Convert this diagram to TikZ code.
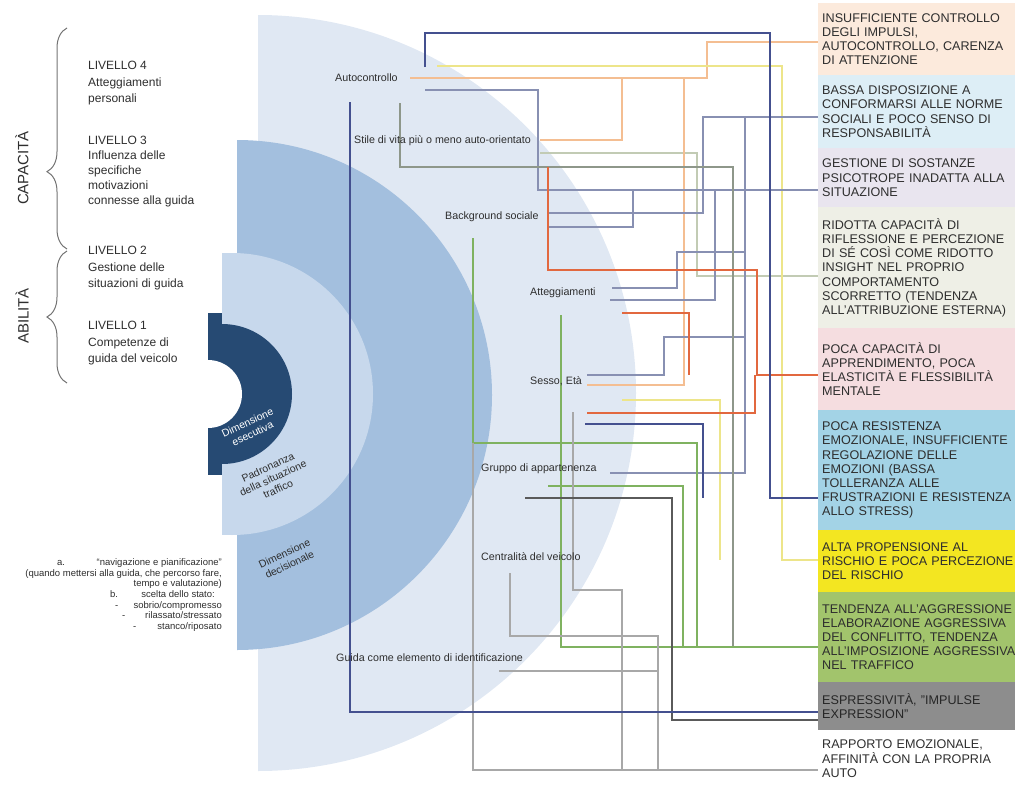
\documentclass[tikz,border=0pt]{standalone}
\usepackage{fontspec}
\setmainfont{Liberation Sans}
\usetikzlibrary{decorations.pathreplacing,positioning}
% semicircles
\definecolor{ringlight}{HTML}{E0E8F3}
\definecolor{ringmid}{HTML}{A3BFDE}
\definecolor{ringpale}{HTML}{C7D8EC}
\definecolor{ringdark}{HTML}{264A73}
\definecolor{txtgrey}{HTML}{2E2E2E}
% boxes
\definecolor{bxpeach}{HTML}{FCEADC}
\definecolor{bxsky}{HTML}{DDEEF6}
\definecolor{bxlilac}{HTML}{E9E5EF}
\definecolor{bxsage}{HTML}{EEEFE6}
\definecolor{bxpink}{HTML}{F5DDE0}
\definecolor{bxblue}{HTML}{A3D3E6}
\definecolor{bxyellow}{HTML}{F3E621}
\definecolor{bxgreen}{HTML}{A2C46C}
\definecolor{bxgrey}{HTML}{8D8D8D}
% connectors
\definecolor{lnnavy}{HTML}{44508F}
\definecolor{lnpeach}{HTML}{F4BE92}
\definecolor{lnyellow}{HTML}{EDE58A}
\definecolor{lnolive}{HTML}{8E978A}
\definecolor{lnslate}{HTML}{8890B2}
\definecolor{lnred}{HTML}{E2683F}
\definecolor{lngreen}{HTML}{7FB260}
\definecolor{lndark}{HTML}{5A5A5A}
\definecolor{lnlight}{HTML}{A8A8A8}
\definecolor{lnsage}{HTML}{C2CBB4}

\begin{document}
\begin{tikzpicture}[x=1pt,y=-1pt,
    box/.style={anchor=north west, fill=#1, text width=230pt, inner xsep=4pt, inner ysep=0pt,
        align=left, text=txtgrey, font=\fontsize{12.6}{14.2}\selectfont},
    lvl/.style={anchor=north west, align=left, inner sep=0pt, text=txtgrey,
        font=\fontsize{12}{16.5}\selectfont},
    fac/.style={anchor=west, inner sep=0pt, text=txtgrey, font=\fontsize{10.7}{12}\selectfont},
    dim/.style={rotate=25, align=center, inner sep=0pt, font=\fontsize{10.5}{12}\selectfont},
    note/.style={anchor=base east, inner sep=0pt, text=txtgrey, font=\fontsize{9.5}{11}\selectfont},
    ln/.style={draw=#1, line width=1.1pt}]
    \useasboundingbox (0,0) rectangle (1015,787);

    % Big light semicircle
    \begin{scope}
        \clip (258,0) rectangle (700,787);
        \fill[ringlight] (258,393) circle (378);
    \end{scope}

    % Middle ring
    \begin{scope}
        \clip (237,0) rectangle (520,787);
        \fill[ringmid] (237,395) circle (255);
    \end{scope}

    % Padronanza ring
    \begin{scope}
        \clip (222,0) rectangle (400,787);
        \fill[ringpale] (222,253) rectangle (232,535);
        \fill[ringpale] (232,394) circle (141);
    \end{scope}

    % Dark inner ring with notch
    \begin{scope}
        \clip (208,0) rectangle (320,787);
        \fill[ringdark] (208,313) rectangle (222,475);
        \fill[ringdark] (222,394) circle (70);
        \fill[white] (208,394) circle (34);
    \end{scope}

    % Boxes on the right
    \node[box=bxpeach, minimum height=72pt] (b1) at (818,3)
        {INSUFFICIENTE CONTROLLO\\DEGLI IMPULSI,\\AUTOCONTROLLO, CARENZA\\DI ATTENZIONE};
    \node[box=bxsky, minimum height=73pt] (b2) at (818,75)
        {BASSA DISPOSIZIONE A\\CONFORMARSI ALLE NORME\\SOCIALI E POCO SENSO DI\\RESPONSABILITÀ};
    \node[box=bxlilac, minimum height=59pt] (b3) at (818,148)
        {GESTIONE DI SOSTANZE\\PSICOTROPE INADATTA ALLA\\SITUAZIONE};
    \node[box=bxsage, minimum height=121pt] (b4) at (818,207)
        {RIDOTTA CAPACITÀ DI\\RIFLESSIONE E PERCEZIONE\\DI SÉ COSÌ COME RIDOTTO\\INSIGHT NEL PROPRIO\\COMPORTAMENTO\\SCORRETTO (TENDENZA\\ALL'ATTRIBUZIONE ESTERNA)};
    \node[box=bxpink, minimum height=82pt] (b5) at (818,328)
        {POCA CAPACITÀ DI\\APPRENDIMENTO, POCA\\ELASTICITÀ E FLESSIBILITÀ\\MENTALE};
    \node[box=bxblue, minimum height=120pt] (b6) at (818,410)
        {POCA RESISTENZA\\EMOZIONALE, INSUFFICIENTE\\REGOLAZIONE DELLE\\EMOZIONI (BASSA\\TOLLERANZA ALLE\\FRUSTRAZIONI E RESISTENZA\\ALLO STRESS)};
    \node[box=bxyellow, minimum height=62pt] (b7) at (818,530)
        {ALTA PROPENSIONE AL\\RISCHIO E POCA PERCEZIONE\\DEL RISCHIO};
    \node[box=bxgreen, minimum height=90pt] (b8) at (818,592)
        {TENDENZA ALL'AGGRESSIONE\\ELABORAZIONE AGGRESSIVA\\DEL CONFLITTO, TENDENZA\\ALL'IMPOSIZIONE AGGRESSIVA\\NEL TRAFFICO};
    \node[box=bxgrey, minimum height=48pt, text=black!85] (b9) at (818,682)
        {ESPRESSIVITÀ, "IMPULSE\\EXPRESSION"};
    \node[box=white, minimum height=57pt] (b10) at (818,730)
        {RAPPORTO EMOZIONALE,\\AFFINITÀ CON LA PROPRIA\\AUTO};

    % Connectors
    \draw[ln=lnsage] (540,153) -| (697,276) -- (b4.west |- 0,276);
    \draw[ln=lnpeach] (410,78) -| (707,42) -- (b1.west |- 0,42);
    \draw[ln=lnpeach] (540,140) -| (622,78);
    \draw[ln=lnpeach] (587,385) -| (684,78);
    \draw[ln=lnyellow] (437,66) -| (782,560) -- (b7.west |- 0,560);
    \draw[ln=lnyellow] (622,400) -| (720,560);
    \draw[ln=lnslate] (425,90) -| (538,190) -- (b3.west |- 0,190);
    \draw[ln=lnslate] (548,227) -| (633,190);
    \draw[ln=lnslate] (610,300) -| (715,190);
    \draw[ln=lnslate] (548,213) -| (703,117) -- (b2.west |- 0,117);
    \draw[ln=lnslate] (610,473) -| (745,117);
    \draw[ln=lnslate] (612,288) -| (677,252) -- (745,252);
    \draw[ln=lnslate] (587,375) -| (664,337) -- (745,337);
    \draw[ln=lnolive] (400,103) |- (733,167) |- (b8.west |- 0,647);
    \draw[ln=lnred] (548,167) |- (757,270) |- (b5.west |- 0,375);
    \draw[ln=lnred] (622,313) -| (689,375);
    \draw[ln=lnred] (587,413) -| (755,375);
    \draw[ln=lngreen] (473,238) |- (697,443) -- (697,647);
    \draw[ln=lngreen] (561,315) |- (b8.west |- 0,647);
    \draw[ln=lngreen] (548,486) -| (683,647);
    \draw[ln=lnlight] (473,443) |- (b10.west |- 0,770);
    \draw[ln=lnlight] (510,573) |- (658,636) -- (658,770);
    \draw[ln=lnlight] (573,412) |- (622,590) -- (622,770);
    \draw[ln=lnlight] (499,671) -- (658,671);
    \draw[ln=lndark] (525,498) -| (672,720) -- (b9.west |- 0,720);
    \draw[ln=lnnavy] (585,424) -| (703,498);
    \draw[ln=lnnavy] (425,67) |- (770,33) |- (b6.west |- 0,498);
    \draw[ln=lnnavy] (350,102) |- (b9.west |- 0,712);

    % Factor labels
    \node[fac] (auto) at (335,78) {Autocontrollo};
    \node[fac] (stile) at (354,141) {Stile di vita più o meno auto-orientato};
    \node[fac] (backg) at (445,217) {Background sociale};
    \node[fac] (atteg) at (530,293) {Atteggiamenti};
    \node[fac] (sesso) at (530,381) {Sesso, Età};
    \node[fac] (gruppo) at (481,469) {Gruppo di appartenenza};
    \node[fac] (centr) at (481,557) {Centralità del veicolo};
    \node[fac] (guida) at (336,658) {Guida come elemento di identificazione};

    % Ring labels
    \node[dim, text=white] (dimese) at (250,428) {Dimensione\\esecutiva};
    \node[dim, text=txtgrey] (padr) at (273,478) {Padronanza\\della situazione\\traffico};
    \node[dim, text=txtgrey] (dimdec) at (287,559) {Dimensione\\decisionale};

    % Levels and braces
    \draw[black!55, line width=1pt, decorate, decoration={brace, amplitude=20pt, aspect=0.35}]
        (67,249) -- (67,28);
    \draw[black!55, line width=1pt, decorate, decoration={brace, amplitude=20pt, aspect=0.5}]
        (67,383) -- (67,251);
    \node[rotate=90, text=txtgrey, font=\fontsize{15}{18}\selectfont] (capac) at (22,168) {CAPACITÀ};
    \node[rotate=90, text=txtgrey, font=\fontsize{15}{18}\selectfont] (abil) at (22,316) {ABILITÀ};
    \node[lvl] (liv4) at (88,61) {LIVELLO 4\\Atteggiamenti\\personali};
    \node[lvl, font=\fontsize{12}{15}\selectfont] (liv3) at (88,136) {LIVELLO 3\\Influenza delle\\specifiche\\motivazioni\\connesse alla guida};
    \node[lvl] (liv2) at (88,246) {LIVELLO 2\\Gestione delle\\situazioni di guida};
    \node[lvl] (liv1) at (88,321) {LIVELLO 1\\Competenze di\\guida del veicolo};

    % Note on the decision level
    \node[note] (na) at (222,565) {“navigazione e pianificazione”};
    \node[note, anchor=base west] (naa) at (57,565) {a.};
    \node[note] (nb) at (222,576) {(quando mettersi alla guida, che percorso fare,};
    \node[note] (nc) at (222,586) {tempo e valutazione)};
    \node[note] (nd) at (215,597) {scelta dello stato:};
    \node[note, anchor=base west] (ndb) at (110,597) {b.};
    \node[note] (ne) at (222,608) {sobrio/compromesso};
    \node[note, anchor=base west] (ned) at (115,608) {-};
    \node[note] (nf) at (222,618) {rilassato/stressato};
    \node[note, anchor=base west] (nfd) at (122,618) {-};
    \node[note] (ng) at (222,629) {stanco/riposato};
    \node[note, anchor=base west] (ngd) at (133,629) {-};
\end{tikzpicture}
\end{document}
